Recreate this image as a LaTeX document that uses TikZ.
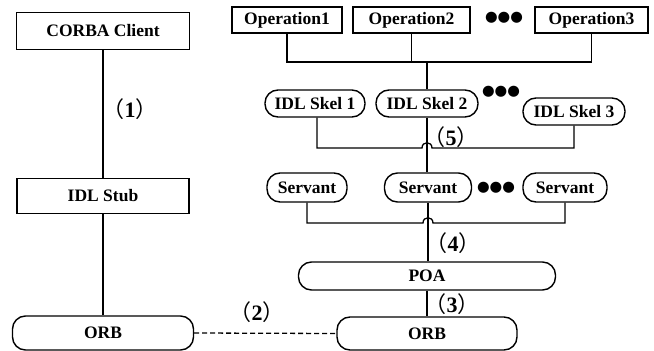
\documentclass[tikz,border=0pt]{standalone}
\usepackage{fontspec}
\setmainfont{Liberation Serif}
\newfontfamily\cjk{Noto Sans CJK SC}
\newfontfamily\symfont{DejaVu Sans}
\usepackage{tikz}
\usetikzlibrary{positioning}
\tikzset{
  box/.style={draw, line width=1.4pt, inner sep=0pt, font=\fontsize{17.5}{19}\selectfont\bfseries},
  pill/.style={box, rounded corners=13pt},
  lbl/.style={inner sep=0pt, font=\fontsize{22}{24}\selectfont\bfseries},
  ellip/.style={inner sep=0pt, font=\fontsize{14.5}{16}\selectfont\symfont},
  wire/.style={line width=1.3pt},
}
\newcommand{\stepno}[1]{{\cjk\mdseries （}#1{\cjk\mdseries ）}}

\begin{document}
\begin{tikzpicture}[x=1pt, y=-1pt]
\useasboundingbox (0,0) rectangle (654,351);
% client side
\node[box, minimum width=173pt, minimum height=37pt] (client) at (103,31) {CORBA Client};
\node[box, minimum width=172pt, minimum height=35pt] (stub) at (103,196) {IDL Stub};
\node[pill, minimum width=181pt, minimum height=34pt] (orbL) at (103,333) {ORB};
% server side
\node[box, minimum width=110pt, minimum height=26pt] (op1) at (287,20) {Operation1};
\node[box, minimum width=117pt, minimum height=26pt] (op2) at (411.5,20) {Operation2};
\node[box, minimum width=113pt, minimum height=26pt] (op3) at (591.5,20) {Operation3};
\node[ellip] (dotsop) at (504,18) {●●●};
\node[pill, minimum width=100pt, minimum height=27pt] (skel1) at (315,103.5) {IDL Skel 1};
\node[pill, minimum width=102pt, minimum height=27pt] (skel2) at (427,103.5) {IDL Skel 2};
\node[pill, minimum width=102pt, minimum height=27pt] (skel3) at (574,111.5) {IDL Skel 3};
\node[ellip] (dotsskel) at (501,92) {●●●};
\node[pill, minimum width=80pt, minimum height=29pt] (serv1) at (307,187.5) {Servant};
\node[pill, minimum width=87pt, minimum height=29pt] (serv2) at (428,187.5) {Servant};
\node[pill, minimum width=84pt, minimum height=29pt] (serv3) at (565,187.5) {Servant};
\node[ellip] (dotsserv) at (496,188) {●●●};
\node[pill, minimum width=257pt, minimum height=28pt] (poa) at (427,276) {POA};
\node[pill, minimum width=180pt, minimum height=33pt] (orbR) at (427,333.5) {ORB};
% step labels
\node[lbl] (lbl1) at (130,109) {\stepno{1}};
\node[lbl] (lbl2) at (257,312) {\stepno{2}};
\node[lbl] (lbl3) at (452,304) {\stepno{3}};
\node[lbl] (lbl4) at (453,243) {\stepno{4}};
\node[lbl] (lbl5) at (451,137) {\stepno{5}};
% connectors
\coordinate (opbus) at (op2.south |- 0,62);
\coordinate (j5) at (skel2.south |- 0,148);
\coordinate (j4) at (serv2.south |- 0,223);
\draw[wire] (client.south) -- (stub.north);
\draw[wire] (stub.south) -- (orbL.north);
\draw[wire, dash pattern=on 5pt off 3pt] (orbL.east) -- (orbR.west);
\draw[wire] (op1.south) |- (opbus) -| (op3.south);
\draw[wire] (op2.south) -- (opbus);
\draw[wire] (skel2.north) -- (skel2.north |- opbus);
\draw[wire] ([xshift=2pt]skel1.south) |- ([xshift=-5pt]j5) .. controls +(0,-7) and +(0,-7) .. ([xshift=5pt]j5) -| (skel3.south);
\draw[wire] (skel2.south) -- (skel2.south |- serv2.north);
\draw[wire] (serv1.south) |- ([xshift=-5pt]j4) .. controls +(0,-7) and +(0,-7) .. ([xshift=5pt]j4) -| (serv3.south);
\draw[wire] (serv2.south) -- (serv2.south |- poa.north);
\draw[wire] (poa.south) -- (orbR.north);
\end{tikzpicture}
\end{document}
